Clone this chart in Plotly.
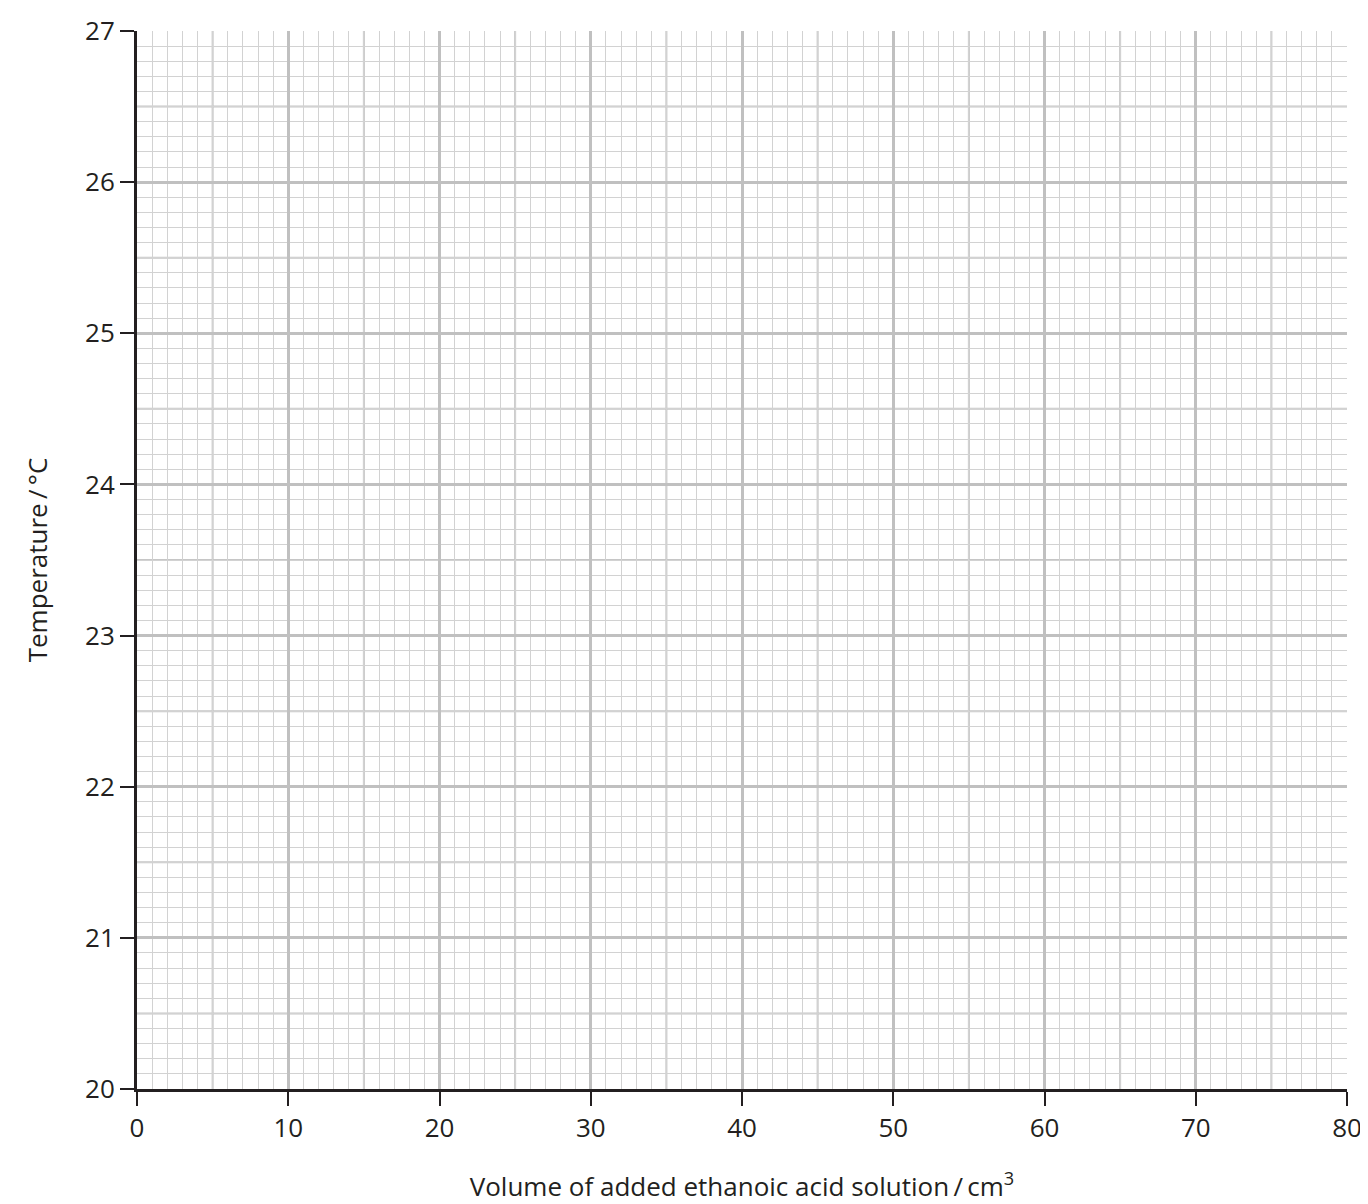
import plotly.graph_objects as go
import numpy as np

# axis ranges and tick labels
x_range = [0, 80]
y_range = [20, 27]
x_ticks = [0, 10, 20, 30, 40, 50, 60, 70, 80]
y_ticks = [20, 21, 22, 23, 24, 25, 26, 27]

x_title = "Volume of added ethanoic acid solution\u2009/\u2009cm<sup>3</sup>"
y_title = "Temperature\u2009/\u2009°C"

fig = go.Figure(go.Scatter(x=[], y=[], mode="markers"))

# medium grid lines (every 5 in x, every 0.5 in y)
shapes = []
for v in np.arange(5, 80, 10):
    shapes.append(dict(type="line", xref="x", yref="paper", x0=v, x1=v, y0=0, y1=1,
                       line=dict(color="#c6c6c6", width=2), layer="below"))
for v in np.arange(20.5, 27, 1):
    shapes.append(dict(type="line", xref="paper", yref="y", x0=0, x1=1, y0=v, y1=v,
                       line=dict(color="#c6c6c6", width=2), layer="below"))

tick_font = dict(family="Open Sans, Noto Sans, sans-serif", size=26, color="#231f20")
title_font = dict(family="Open Sans, Noto Sans, sans-serif", size=26, color="#231f20")

fig.update_layout(
    width=1360, height=1196,
    margin=dict(l=129, r=21, t=23, b=115),
    plot_bgcolor="white", paper_bgcolor="white",
    showlegend=False, shapes=shapes, font=tick_font,
    xaxis=dict(range=x_range, tickvals=x_ticks, showgrid=True, gridcolor="#c0c0c0", gridwidth=3,
               minor=dict(dtick=1, showgrid=True, gridcolor="#d2d2d2", gridwidth=1),
               ticks="outside", ticklen=14, tickwidth=2, tickcolor="#231f20",
               tickfont=tick_font, automargin=False,
               showline=True, linecolor="#231f20", linewidth=3, zeroline=False,
               title=dict(text=x_title, standoff=36, font=title_font), fixedrange=True),
    yaxis=dict(range=y_range, tickvals=y_ticks, showgrid=True, gridcolor="#c0c0c0", gridwidth=3,
               minor=dict(dtick=0.1, showgrid=True, gridcolor="#d2d2d2", gridwidth=1),
               ticks="outside", ticklen=14, tickwidth=2, tickcolor="#231f20",
               tickfont=tick_font, automargin=False,
               showline=True, linecolor="#231f20", linewidth=3, zeroline=False,
               title=dict(text=y_title, standoff=30, font=title_font), fixedrange=True),
)

fig.write_html("out.html")
